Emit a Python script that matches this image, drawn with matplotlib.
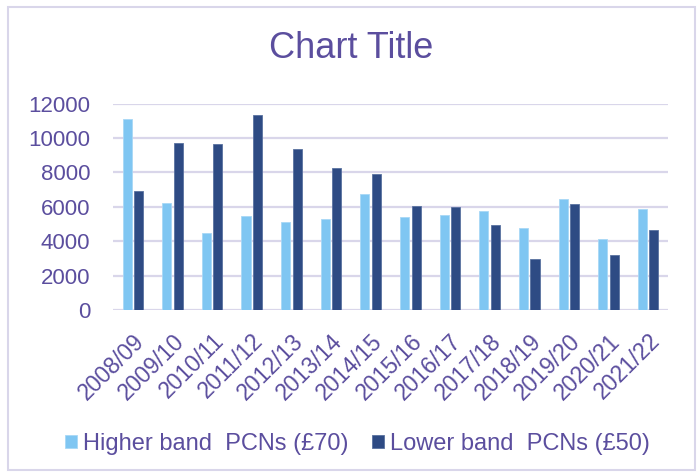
import matplotlib
matplotlib.use("Agg")
import matplotlib.pyplot as plt
from matplotlib.patches import Rectangle
import numpy as np

years = ["2008/09", "2009/10", "2010/11", "2011/12", "2012/13", "2013/14", "2014/15",
         "2015/16", "2016/17", "2017/18", "2018/19", "2019/20", "2020/21", "2021/22"]
higher_band = [11100, 6200, 4460, 5490, 5100, 5280, 6730,
               5430, 5500, 5760, 4770, 6460, 4110, 5870]
lower_band = [6920, 9700, 9650, 11350, 9330, 8280, 7900,
              6030, 5970, 4940, 2970, 6150, 3200, 4630]
series_names = ["Higher band  PCNs (£70)", "Lower band  PCNs (£50)"]
y_ticks = [0, 2000, 4000, 6000, 8000, 10000, 12000]

text_col = "#5B4E9E"
grid_col = "#D9D6EA"
light_col = "#7FC6F2"
dark_col = "#2E4B84"

plt.rcParams['font.family'] = ['Liberation Sans', 'DejaVu Sans']

fig = plt.figure(figsize=(7, 4.76), dpi=100)
ax = fig.add_axes([113 / 700, 166 / 476, 555 / 700, 206.5 / 476])

x = np.arange(len(years))
w = 0.23
ax.bar(x - 0.145, higher_band, w, color=light_col, edgecolor="#A8D8F6", linewidth=0.6,
       label=series_names[0], zorder=3)
ax.bar(x + 0.145, lower_band, w, color=dark_col, edgecolor="#5A72A0", linewidth=0.6,
       label=series_names[1], zorder=3)

ax.set_xlim(-0.5, len(years) - 0.5)
ax.set_ylim(0, 12000)
ax.set_yticks(y_ticks)
ax.set_xticks(x)
ax.set_xticklabels(years, rotation=45, ha="right", rotation_mode="anchor")
ax.tick_params(axis="both", length=0, colors=text_col, labelsize=16)
ax.tick_params(axis="x", labelsize=16.5, pad=14)
ax.tick_params(axis="y", pad=16.5)
ax.grid(axis="y", color=grid_col, linewidth=1.6, zorder=0)
for s in ax.spines.values():
    s.set_visible(False)

fig.text(351.5 / 700, 1 - 49 / 476, "Chart Title", ha="center", va="center",
         fontsize=26, color=text_col)

fig.legend(loc="center", bbox_to_anchor=(357.5 / 700, 1 - 444 / 476), ncol=2, frameon=False,
           fontsize=17, labelcolor=text_col, handlelength=0.51, handleheight=0.51,
           handletextpad=0.25, columnspacing=1.0, borderpad=0, borderaxespad=0)

fig.patches.append(Rectangle((8 / 700, 6 / 476), 687 / 700, 463 / 476,
                             transform=fig.transFigure, fill=False,
                             edgecolor=grid_col, linewidth=1.5))

fig.savefig("out.png", dpi=100)
